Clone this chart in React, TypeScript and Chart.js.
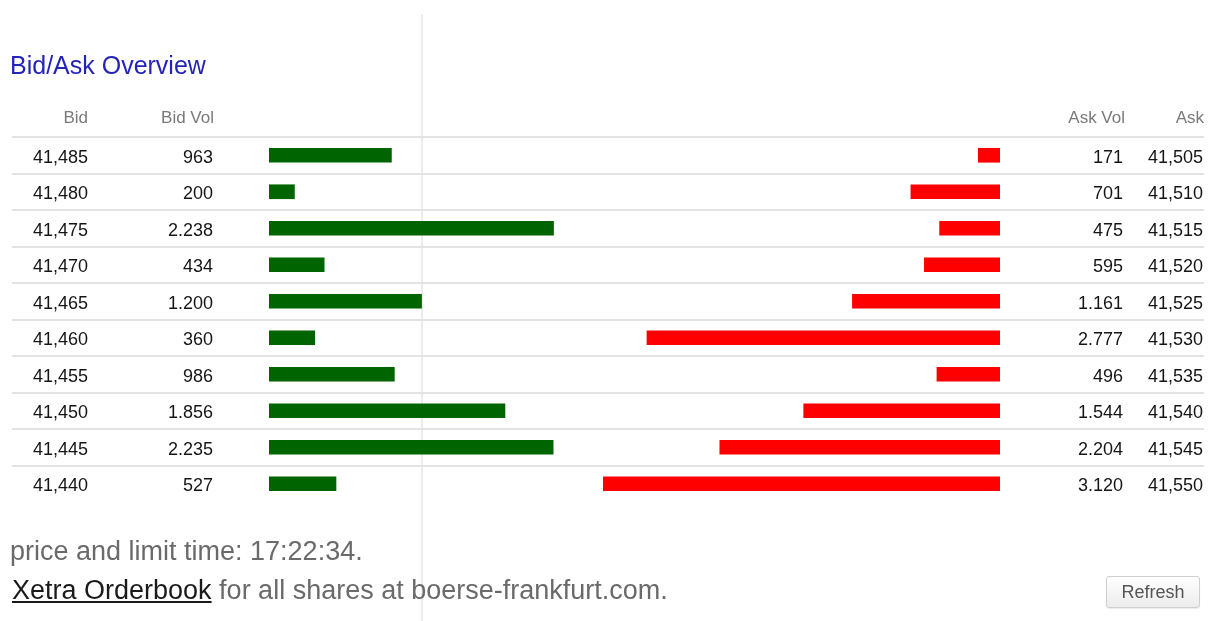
import React, { useEffect, useRef } from "react";
import { Chart, registerables } from "chart.js";

Chart.register(...registerables);

const bidPrices = ["41,485", "41,480", "41,475", "41,470", "41,465", "41,460", "41,455", "41,450", "41,445", "41,440"];
const bidVols = [963, 200, 2238, 434, 1200, 360, 986, 1856, 2235, 527];
const askVols = [171, 701, 475, 595, 1161, 2777, 496, 1544, 2204, 3120];
const askPrices = ["41,505", "41,510", "41,515", "41,520", "41,525", "41,530", "41,535", "41,540", "41,545", "41,550"];
const headers = ["Bid", "Bid Vol", "Ask Vol", "Ask"];
const scaleMax = 5750;

const FONT = "'Liberation Sans', Arial, sans-serif";

function fmtVol(v: number): string {
  if (v >= 1000) {
    const t = Math.floor(v / 1000);
    const r = String(v % 1000).padStart(3, "0");
    return t + "." + r;
  }
  return String(v);
}

const tablePlugin = {
  id: "tablePlugin",
  beforeDatasetsDraw(chart: any) {
    const ctx = chart.ctx;
    const y = chart.scales.y;
    const area = chart.chartArea;
    const n = bidPrices.length;
    const rowH = (area.bottom - area.top) / n;
    ctx.save();
    ctx.strokeStyle = "#ececec";
    ctx.lineWidth = 2;
    ctx.beginPath();
    ctx.moveTo(422, 14);
    ctx.lineTo(422, 621);
    ctx.stroke();
    ctx.strokeStyle = "#e3e3e3";
    ctx.lineWidth = 2;
    for (let i = 0; i < n; i++) {
      const yy = Math.round(y.getPixelForValue(i) - rowH / 2);
      ctx.beginPath();
      ctx.moveTo(12, yy);
      ctx.lineTo(1204, yy);
      ctx.stroke();
    }
    ctx.restore();
  },
  afterDatasetsDraw(chart: any) {
    const ctx = chart.ctx;
    const y = chart.scales.y;
    const area = chart.chartArea;
    const cols = [88, 214, 1125, 1204];
    ctx.save();
    ctx.textAlign = "right";
    ctx.textBaseline = "alphabetic";
    ctx.fillStyle = "#7a7a7a";
    ctx.font = "17px " + FONT;
    headers.forEach((h, k) => ctx.fillText(h, cols[k], area.top - 14));
    ctx.fillStyle = "#151515";
    ctx.font = "18px " + FONT;
    for (let i = 0; i < bidPrices.length; i++) {
      const yy = y.getPixelForValue(i) + 7.5;
      ctx.fillText(bidPrices[i], 88, yy);
      ctx.fillText(fmtVol(bidVols[i]), 213, yy);
      ctx.fillText(fmtVol(askVols[i]), 1123, yy);
      ctx.fillText(askPrices[i], 1203, yy);
    }
    ctx.restore();
  },
};

export default function App() {
  const ref = useRef<HTMLCanvasElement>(null);
  useEffect(() => {
    if (!ref.current) return;
    const chart = new Chart(ref.current, {
      type: "bar",
      data: {
        labels: bidPrices,
        datasets: [
          {
            label: "Bid Vol",
            data: bidVols.map((v) => [0, v]) as any,
            backgroundColor: "#006400",
            borderWidth: 0,
            barThickness: 14,
            grouped: false,
          } as any,
          {
            label: "Ask Vol",
            data: askVols.map((v) => [scaleMax - v, scaleMax]) as any,
            backgroundColor: "#ff0000",
            borderWidth: 0,
            barThickness: 14,
            grouped: false,
          } as any,
        ],
      },
      options: {
        indexAxis: "y",
        animation: false,
        responsive: false,
        maintainAspectRatio: false,
        layout: { padding: { left: 269, right: 214, top: 137, bottom: 119 } },
        plugins: { legend: { display: false }, tooltip: { enabled: false }, title: { display: false } },
        scales: {
          x: { display: false, min: 0, max: scaleMax },
          y: { display: false, offset: true },
        },
      },
      plugins: [tablePlugin],
    });
    return () => chart.destroy();
  }, []);

  return (
    <div style={{ position: "absolute", left: 0, top: 0, width: 1214, height: 621, background: "#fff", overflow: "hidden", fontFamily: FONT }}>
      <canvas ref={ref} width={1214} height={621} style={{ position: "absolute", left: 0, top: 0, width: 1214, height: 621 }} />
      <div style={{ position: "absolute", left: 10, top: 53, fontSize: 25, lineHeight: "25px", color: "#2424b8", whiteSpace: "nowrap" }}>
        Bid/Ask Overview
      </div>
      <div style={{ position: "absolute", left: 10, top: 538, fontSize: 27, lineHeight: "27px", color: "#6a6a6a", whiteSpace: "nowrap" }}>
        price and limit time: 17:22:34.
      </div>
      <div style={{ position: "absolute", left: 12, top: 577, fontSize: 27, lineHeight: "27px", color: "#6a6a6a", whiteSpace: "nowrap" }}>
        <span style={{ color: "#1a1a1a", textDecoration: "underline" }}>Xetra Orderbook</span> for all shares at boerse-frankfurt.com.
      </div>
      <button
        style={{
          position: "absolute",
          left: 1106,
          top: 576,
          width: 94,
          height: 32,
          border: "1px solid #cfcfcf",
          borderRadius: 3,
          background: "linear-gradient(#ffffff, #ececec)",
          color: "#555",
          fontFamily: FONT,
          fontSize: 18,
          padding: 0,
          boxShadow: "0 1px 1px rgba(0,0,0,0.08)",
        }}
      >
        Refresh
      </button>
    </div>
  );
}
